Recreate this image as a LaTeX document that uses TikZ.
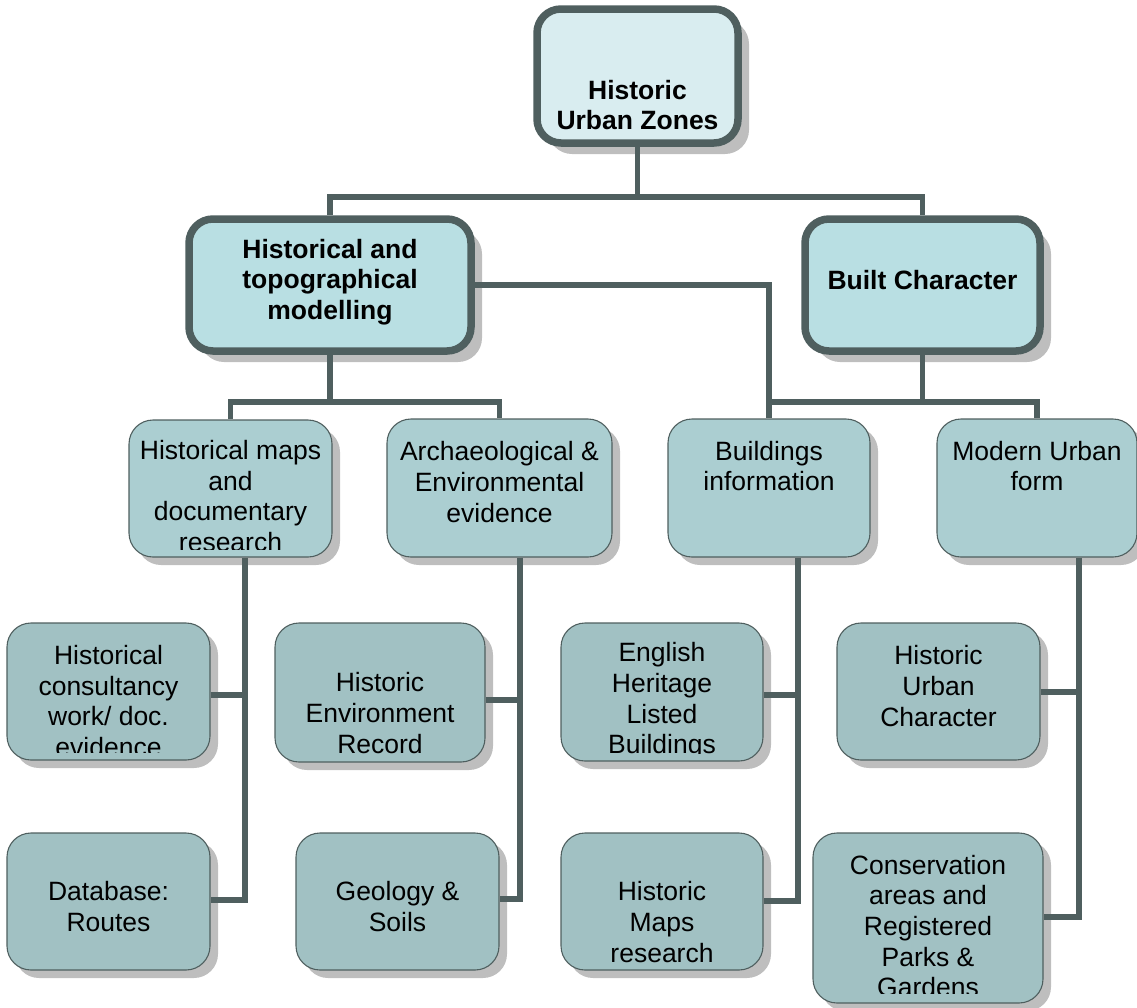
\documentclass[tikz,border=0pt]{standalone}
\usepackage{fontspec}
\setmainfont{Liberation Sans}
\usetikzlibrary{shadows}
\definecolor{cone}{HTML}{D9EDF0}
\definecolor{ctwo}{HTML}{B9DFE3}
\definecolor{cthree}{HTML}{ABCED1}
\definecolor{cfour}{HTML}{A1C1C3}
\definecolor{dark}{HTML}{4F5F5F}
\definecolor{shad}{HTML}{BEBEBE}
\begin{document}
\begin{tikzpicture}[x=1pt,y=-1pt,
  thickbox/.style={draw=dark, line width=7.5pt, rounded corners=24pt, inner sep=0pt,
    drop shadow={shadow xshift=11pt, shadow yshift=-11pt, fill=shad, opacity=1}},
  lone/.style={thickbox, fill=cone},
  ltwo/.style={thickbox, fill=ctwo},
  thinbox/.style={draw=dark, line width=1.1pt, rounded corners=24pt, inner sep=0pt,
    drop shadow={shadow xshift=8pt, shadow yshift=-8pt, fill=shad, opacity=1}},
  lthree/.style={thinbox, fill=cthree},
  lfour/.style={thinbox, fill=cfour},
  txt/.style={align=center, inner sep=0pt, font=\fontsize{26.5}{30.6}\selectfont},
  btxt/.style={txt, font=\fontsize{26.5}{30.6}\selectfont\bfseries},
  conn/.style={draw=dark, line width=5.5pt},
]
\useasboundingbox (0,0) rectangle (1137,1007);

% level 1
\node[lone, minimum width=201pt, minimum height=134pt] (top) at (637.5,76) {};
\node[btxt] (topt) at (637.5,105) {Historic\\Urban Zones};

% level 2
\node[ltwo, minimum width=282pt, minimum height=132pt] (htm) at (330,285) {};
\node[btxt] (htmt) at (330,282) {Historical and\\topographical\\modelling};
\node[ltwo, minimum width=235pt, minimum height=132pt] (bc) at (922.5,285) {};
\node[btxt] (bct) at (922.5,280) {Built Character};

% level 3
\node[lthree, minimum width=203pt, minimum height=137pt] (hmaps) at (230.5,488.5) {};
\begin{scope}
  \clip (129,420) rectangle (332,549);
  \node[txt] (hmapst) at (230.5,496) {Historical maps\\and\\documentary\\research};
\end{scope}
\node[lthree, minimum width=225pt, minimum height=138pt] (arch) at (499.5,488) {};
\node[txt] (archt) at (499.5,482) {Archaeological \&\\Environmental\\evidence};
\node[lthree, minimum width=202pt, minimum height=138pt] (bldg) at (769,488) {};
\node[txt] (bldgt) at (769,466) {Buildings\\information};
\node[lthree, minimum width=200pt, minimum height=138pt] (modern) at (1037,488) {};
\node[txt] (modernt) at (1037,466) {Modern Urban\\form};

% level 4
\node[lfour, minimum width=203pt, minimum height=137pt] (hcons) at (108.5,691.5) {};
\begin{scope}
  \clip (7,623) rectangle (210,752);
  \node[txt] (hconst) at (108.5,701) {Historical\\consultancy\\work/ doc.\\evidence};
\end{scope}
\node[lfour, minimum width=203pt, minimum height=137pt] (db) at (108.5,901.5) {};
\node[txt] (dbt) at (108.5,906.5) {Database:\\Routes};

\node[lfour, minimum width=210pt, minimum height=139pt] (her) at (380,692.5) {};
\node[txt] (hert) at (380,713) {Historic\\Environment\\Record};
\node[lfour, minimum width=203pt, minimum height=137pt] (geo) at (397.5,901.5) {};
\node[txt] (geot) at (397.5,906.5) {Geology \&\\Soils};

\node[lfour, minimum width=202pt, minimum height=138pt] (eh) at (662,692) {};
\begin{scope}
  \clip (561,623) rectangle (763,753);
  \node[txt] (eht) at (662,701) {English\\Heritage\\Listed\\Buildings};
\end{scope}
\node[lfour, minimum width=202pt, minimum height=137pt] (hmr) at (662,901.5) {};
\node[txt] (hmrt) at (662,922) {Historic\\Maps\\research};

\node[lfour, minimum width=203pt, minimum height=137pt] (huc) at (938.5,691.5) {};
\node[txt] (huct) at (938.5,686) {Historic\\Urban\\Character};
\node[lfour, minimum width=230pt, minimum height=170pt] (cons) at (928,918) {};
\begin{scope}
  \clip (813,833) rectangle (1043,993);
  \node[txt] (const) at (928,926) {Conservation\\areas and\\Registered\\Parks \&\\Gardens};
\end{scope}

% junctions
\coordinate (j0) at (637.5,197);
\coordinate (j1) at (330,402);
\coordinate (j2) at (922.5,402);
\coordinate (c1a) at (245,695);
\coordinate (c1b) at (245,900);
\coordinate (c2a) at (520,700);
\coordinate (c2b) at (520,899);
\coordinate (c3a) at (798,695);
\coordinate (c3b) at (798,901);
\coordinate (c4a) at (1079,692);
\coordinate (c4b) at (1079,917);

% connectors
\draw[conn] (top.south) -- (j0);
\draw[conn] (j0) -| (htm.north);
\draw[conn] (j0) -| (bc.north);
\draw[conn] (htm.south) -- (j1);
\draw[conn] (j1) -| (hmaps.north);
\draw[conn] (j1) -| (arch.north);
\draw[conn] (htm.east) -| (bldg.north);
\draw[conn] (bc.south) -- (j2);
\draw[conn] (j2) -| (bldg.north);
\draw[conn] (j2) -| (modern.north);

\draw[conn] (hmaps.south -| c1b) -- (c1b) -- (db.east |- c1b);
\draw[conn] (hcons.east |- c1a) -- (c1a);
\draw[conn] (arch.south -| c2b) -- (c2b) -- (geo.east |- c2b);
\draw[conn] (her.east |- c2a) -- (c2a);
\draw[conn] (bldg.south -| c3b) -- (c3b) -- (hmr.east |- c3b);
\draw[conn] (eh.east |- c3a) -- (c3a);
\draw[conn] (modern.south -| c4b) -- (c4b) -- (cons.east |- c4b);
\draw[conn] (huc.east |- c4a) -- (c4a);
\end{tikzpicture}
\end{document}
